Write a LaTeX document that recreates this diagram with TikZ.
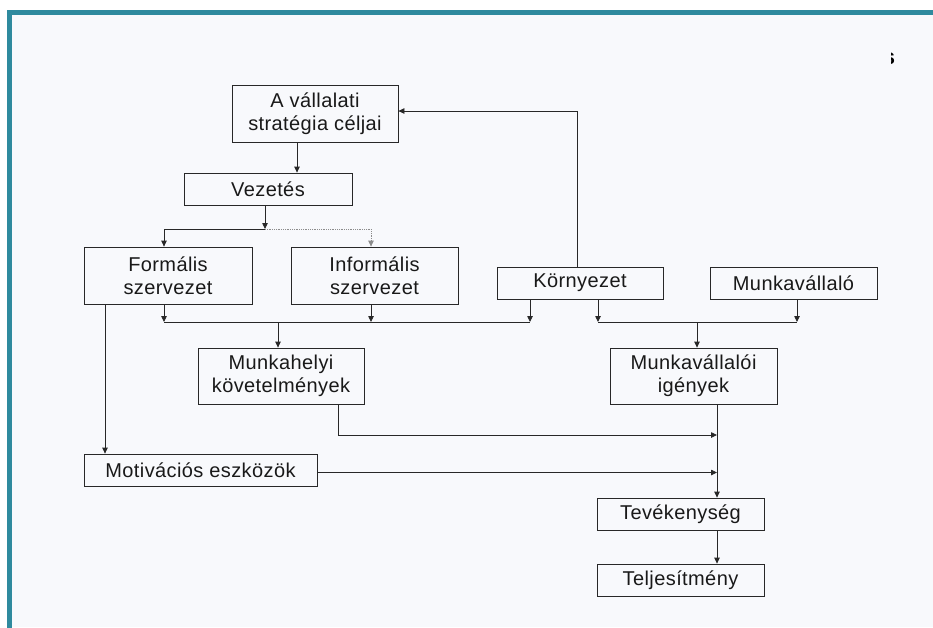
\documentclass[tikz,border=0pt]{standalone}
\usepackage{fontspec}
\setmainfont{Liberation Sans}[LetterSpace=2.0]
\usetikzlibrary{arrows.meta}
\definecolor{frameteal}{RGB}{47,138,158}
\definecolor{panel}{RGB}{248,249,252}
\definecolor{ink}{RGB}{40,40,40}
\tikzset{
  box/.style={draw=ink, line width=0.8pt, fill=panel, align=center, inner sep=0pt,
    font=\fontsize{20}{23}\selectfont, text=black!90},
  conn/.style={draw=ink, line width=0.8pt},
  arr/.style={conn, -{Triangle[length=6pt,width=5.5pt]}},
  dotarr/.style={draw=black!45, line width=0.8pt, densely dotted, -{Triangle[length=6pt,width=5.5pt]}},
}
\begin{document}
\begin{tikzpicture}[x=1pt,y=-1pt]
  \useasboundingbox (0,0) rectangle (933,627);
  % page and panel frame
  \fill[white] (0,0) rectangle (933,627);
  \fill[panel] (12,15) rectangle (933,627);
  \draw[frameteal, line width=5.5pt] (9.5,700) -- (9.5,12.5) -- (1000,12.5);
  \begin{scope}
    \clip (891,40) rectangle (900,75);
    \node[font=\fontsize{22}{24}\selectfont\bfseries, inner sep=0pt] (cut) at (889,59) {s};
  \end{scope}

  % boxes
  \node[box, minimum width=166pt, minimum height=57pt] (strat) at (315,113.5) {A vállalati\\stratégia céljai};
  \node[box, minimum width=168pt, minimum height=32pt] (vez) at (268,189) {Vezetés};
  \node[box, minimum width=168pt, minimum height=57pt] (form) at (168,275.5) {Formális\\szervezet};
  \node[box, minimum width=167pt, minimum height=57pt] (inform) at (374.5,275.5) {Informális\\szervezet};
  \node[box, minimum width=166pt, minimum height=32pt] (korny) at (580,283) {Környezet};
  \node[box, minimum width=167pt, minimum height=32pt] (munkav) at (793.5,283) {Munkavállaló};
  \node[box, minimum width=166pt, minimum height=56pt] (munkah) at (281,376) {Munkahelyi\\követelmények};
  \node[box, minimum width=167pt, minimum height=56pt] (igeny) at (693.5,376) {Munkavállalói\\igények};
  \node[box, minimum width=233pt, minimum height=32pt] (motiv) at (200.5,470) {Motivációs eszközök};
  \node[box, minimum width=167pt, minimum height=32pt] (tev) at (680.5,514) {Tevékenység};
  \node[box, minimum width=167pt, minimum height=32pt] (telj) at (680.5,580) {Teljesítmény};

  % connector columns, rows and junctions
  \coordinate (xA) at (297,0);
  \coordinate (j1) at (265,229);
  \coordinate (xF) at (164,0);
  \coordinate (xI) at (371,0);
  \coordinate (bus1) at (278,322);
  \coordinate (xK1) at (530,0);
  \coordinate (xK2) at (598,0);
  \coordinate (xK3) at (577,0);
  \coordinate (bus2) at (697,322);
  \coordinate (xM) at (797,0);
  \coordinate (xFm) at (105,0);
  \coordinate (xH) at (338,0);
  \coordinate (xT) at (717,0);
  \coordinate (yH) at (0,435);
  \coordinate (ySt) at (0,111);
  \coordinate (yMo) at (0,472.5);

  % leadership branch
  \draw[arr] (strat.south -| xA) -- (vez.north -| xA);
  \draw[arr] (vez.south -| j1) -- (j1);
  \draw[arr] (j1) -| (form.north -| xF);
  \draw[dotarr] (j1) -| (inform.north -| xI);

  % workplace requirements bus
  \draw[arr] (form.south -| xF) -- (bus1 -| xF);
  \draw[arr] (inform.south -| xI) -- (bus1 -| xI);
  \draw[arr] (korny.south -| xK1) -- (bus1 -| xK1);
  \draw[conn] (bus1 -| xF) -- (bus1 -| xK1);
  \draw[arr] (bus1) -- (munkah.north -| bus1);

  % environment feedback to strategy
  \draw[arr] (korny.north -| xK3) |- (strat.east |- ySt);

  % employee needs bus
  \draw[arr] (korny.south -| xK2) -- (bus2 -| xK2);
  \draw[arr] (munkav.south -| xM) -- (bus2 -| xM);
  \draw[conn] (bus2 -| xK2) -- (bus2 -| xM);
  \draw[arr] (bus2) -- (igeny.north -| bus2);

  % motivation and activity chain
  \draw[arr] (form.south -| xFm) -- (motiv.north -| xFm);
  \draw[arr] (munkah.south -| xH) |- (yH -| xT);
  \draw[arr] (motiv.east |- yMo) -- (yMo -| xT);
  \draw[arr] (igeny.south -| xT) -- (tev.north -| xT);
  \draw[arr] (tev.south -| xT) -- (telj.north -| xT);
\end{tikzpicture}
\end{document}
